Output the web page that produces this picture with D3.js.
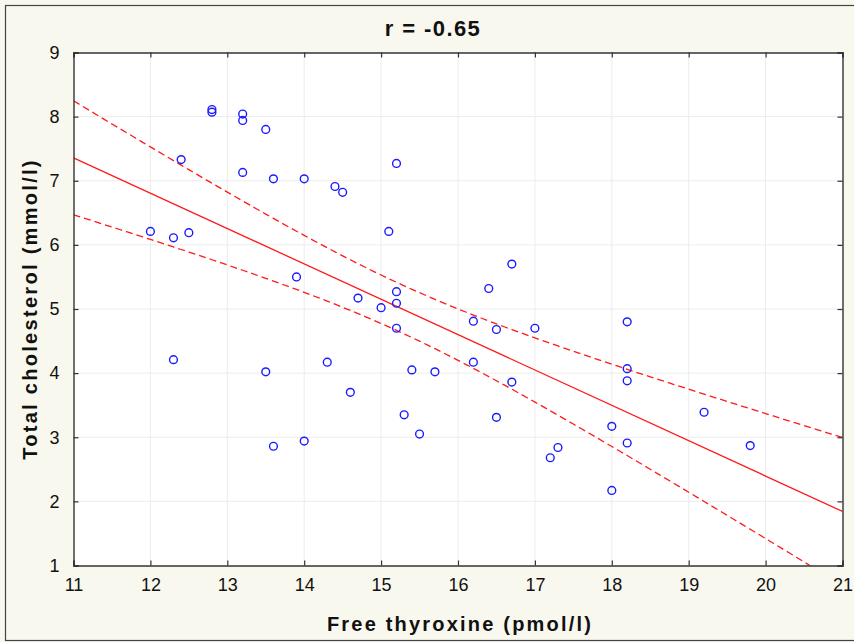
<!DOCTYPE html>
<html>
<head>
<meta charset="utf-8">
<script src="https://cdn.jsdelivr.net/npm/d3@7"></script>
<style>
  html, body { margin: 0; padding: 0; background: #f9f8ee; }
  svg { display: block; }
  text { font-family: "Liberation Sans", Arial, sans-serif; }
</style>
</head>
<body>
<svg id="chart" width="854" height="642"></svg>
<script>
// ---- data ----
const freeT4 = [12.0, 12.3, 12.3, 12.4, 12.5, 12.8, 12.8, 13.2, 13.2, 13.2,
                13.5, 13.5, 13.6, 13.6, 13.9, 14.0, 14.0, 14.3, 14.4, 14.5,
                14.6, 14.7, 15.0, 15.1, 15.2, 15.2, 15.2, 15.2, 15.3, 15.4,
                15.5, 15.7, 16.2, 16.2, 16.4, 16.5, 16.5, 16.7, 16.7, 17.0,
                17.2, 17.3, 18.0, 18.0, 18.2, 18.2, 18.2, 18.2, 19.2, 19.8];
const cholesterol = [6.21, 6.11, 4.21, 7.33, 6.19, 8.11, 8.07, 8.04, 7.94, 7.13,
                     7.80, 4.02, 7.03, 2.86, 5.50, 7.03, 2.94, 4.17, 6.91, 6.82,
                     3.70, 5.17, 5.02, 6.21, 7.27, 5.27, 5.09, 4.70, 3.35, 4.05,
                     3.05, 4.02, 4.81, 4.17, 5.32, 4.68, 3.31, 5.70, 3.86, 4.70,
                     2.68, 2.84, 3.17, 2.17, 4.80, 4.07, 3.88, 2.91, 3.39, 2.87];
const xTicks = [11, 12, 13, 14, 15, 16, 17, 18, 19, 20, 21];
const yTicks = [1, 2, 3, 4, 5, 6, 7, 8, 9];
const titleText = "r = -0.65";
const xTitle = "Free thyroxine (pmol/l)";
const yTitle = "Total cholesterol (mmol/l)";
const tCrit = 2.0106; // 95% two-sided, df = 48

// ---- layout ----
const svg = d3.select("#chart");
const W = 854, H = 642;
const plot = { left: 73.5, top: 52.5, right: 842.5, bottom: 565.5 };

// outer frame
svg.append("rect").attr("x", 0).attr("y", 0).attr("width", W).attr("height", H).attr("fill", "#f9f8ee");
svg.append("rect").attr("x", 5.5).attr("y", 5.5).attr("width", W + 10).attr("height", 635)
  .attr("fill", "none").attr("stroke", "#444").attr("stroke-width", 1.2);

const x = d3.scaleLinear().domain([11, 21]).range([plot.left, plot.right]);
const y = d3.scaleLinear().domain([1, 9]).range([plot.bottom, plot.top]);

// plot background
svg.append("rect").attr("x", plot.left).attr("y", plot.top)
  .attr("width", plot.right - plot.left).attr("height", plot.bottom - plot.top)
  .attr("fill", "#ffffff");

// grid
const grid = svg.append("g");
grid.selectAll(".vg").data(xTicks.slice(1, -1)).enter().append("line")
  .attr("x1", d => x(d)).attr("x2", d => x(d)).attr("y1", plot.top).attr("y2", plot.bottom)
  .attr("stroke", "#ececec").attr("stroke-width", 1);
grid.selectAll(".hg").data(yTicks.slice(1, -1)).enter().append("line")
  .attr("y1", d => y(d)).attr("y2", d => y(d)).attr("x1", plot.left).attr("x2", plot.right)
  .attr("stroke", "#ececec").attr("stroke-width", 1);

// clip
svg.append("clipPath").attr("id", "clip").append("rect")
  .attr("x", plot.left).attr("y", plot.top)
  .attr("width", plot.right - plot.left).attr("height", plot.bottom - plot.top);

// regression + 95% confidence band from the data
const n = freeT4.length;
const mx = d3.mean(freeT4), my = d3.mean(cholesterol);
let sxx = 0, sxy = 0;
for (let i = 0; i < n; i++) { sxx += (freeT4[i] - mx) ** 2; sxy += (freeT4[i] - mx) * (cholesterol[i] - my); }
const slope = sxy / sxx, icpt = my - slope * mx;
let sse = 0;
for (let i = 0; i < n; i++) sse += (cholesterol[i] - (icpt + slope * freeT4[i])) ** 2;
const se = Math.sqrt(sse / (n - 2));
const xs = d3.range(11, 21.0001, 0.1);
const half = xv => tCrit * se * Math.sqrt(1 / n + (xv - mx) ** 2 / sxx);

const lg = svg.append("g").attr("clip-path", "url(#clip)");
const line = d3.line().x(d => x(d[0])).y(d => y(d[1]));
lg.append("path").datum([[11, icpt + slope * 11], [21, icpt + slope * 21]])
  .attr("d", line).attr("fill", "none").attr("stroke", "#ff1a1a").attr("stroke-width", 1.3);
lg.append("path").datum(xs.map(v => [v, icpt + slope * v + half(v)]))
  .attr("d", line).attr("fill", "none").attr("stroke", "#ff1a1a").attr("stroke-width", 1.3)
  .attr("stroke-dasharray", "7,4");
lg.append("path").datum(xs.map(v => [v, icpt + slope * v - half(v)]))
  .attr("d", line).attr("fill", "none").attr("stroke", "#ff1a1a").attr("stroke-width", 1.3)
  .attr("stroke-dasharray", "7,4");

// points
svg.append("g").selectAll("circle").data(freeT4.map((v, i) => [v, cholesterol[i]])).enter()
  .append("circle")
  .attr("cx", d => x(d[0])).attr("cy", d => y(d[1])).attr("r", 3.9)
  .attr("fill", "none").attr("stroke", "#1a1aff").attr("stroke-width", 1.4);

// axes (ticks inward on all four sides)
const axColor = "#333";
const tickLen = 5;
const bottomAxis = d3.axisBottom(x).tickValues(xTicks).tickSize(-tickLen).tickPadding(13).tickFormat(d3.format("d"));
const topAxis = d3.axisTop(x).tickValues(xTicks).tickSize(-tickLen).tickFormat("");
const leftAxis = d3.axisLeft(y).tickValues(yTicks).tickSize(-tickLen).tickPadding(14).tickFormat(d3.format("d"));
const rightAxis = d3.axisRight(y).tickValues(yTicks).tickSize(-tickLen).tickFormat("");

function style(g) {
  g.select(".domain").attr("stroke", axColor).attr("stroke-width", 1.4);
  g.selectAll(".tick line").attr("stroke", axColor).attr("stroke-width", 1.2);
  g.selectAll(".tick text").attr("fill", "#111").style("font-size", "18px")
    .style("font-family", "'Liberation Sans', Arial, sans-serif");
}
svg.append("g").attr("transform", `translate(0,${plot.bottom})`).call(bottomAxis).call(style);
svg.append("g").attr("transform", `translate(0,${plot.top})`).call(topAxis).call(style);
svg.append("g").attr("transform", `translate(${plot.left},0)`).call(leftAxis).call(style);
svg.append("g").attr("transform", `translate(${plot.right},0)`).call(rightAxis).call(style);

// titles
svg.append("text").attr("x", 433).attr("y", 35.5).attr("text-anchor", "middle")
  .style("font-size", "22px").style("font-weight", "bold").style("letter-spacing", "1.4px")
  .attr("fill", "#111").text(titleText);
svg.append("text").attr("x", 460).attr("y", 631).attr("text-anchor", "middle")
  .style("font-size", "20px").style("font-weight", "bold").style("letter-spacing", "2.2px")
  .attr("fill", "#111").text(xTitle);
svg.append("text").attr("transform", "translate(37,309) rotate(-90)").attr("text-anchor", "middle")
  .style("font-size", "20px").style("font-weight", "bold").style("letter-spacing", "2.3px")
  .attr("fill", "#111").text(yTitle);
</script>
</body>
</html>
